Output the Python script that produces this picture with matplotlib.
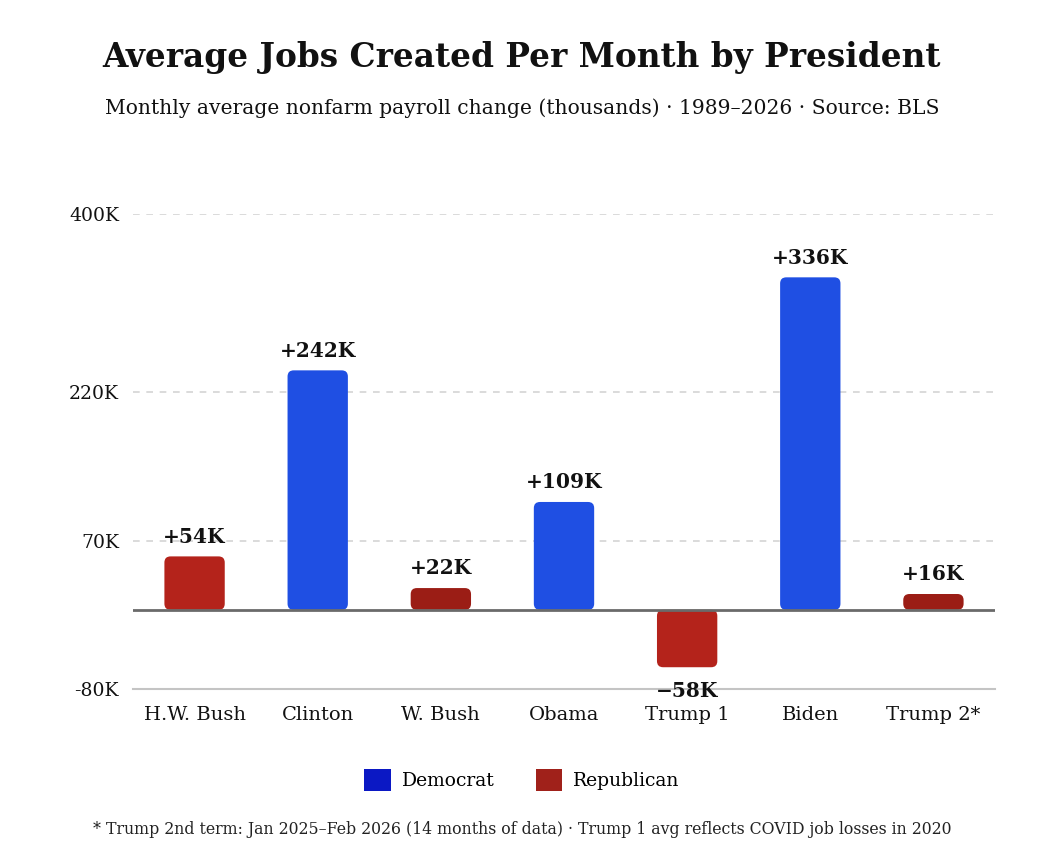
import matplotlib
matplotlib.use("Agg")
import matplotlib.pyplot as plt
from matplotlib.patches import FancyBboxPatch, Patch
import numpy as np

presidents = ["H.W. Bush", "Clinton", "W. Bush", "Obama", "Trump 1", "Biden", "Trump 2*"]
values = [54, 242, 22, 109, -58, 336, 16]
parties = ["R", "D", "R", "D", "R", "D", "R"]
value_labels = ["+54K", "+242K", "+22K", "+109K", "\u221258K", "+336K", "+16K"]
yticks = [-80, 70, 220, 400]
ytick_labels = ["-80K", "70K", "220K", "400K"]

title = "Average Jobs Created Per Month by President"
subtitle = "Monthly average nonfarm payroll change (thousands) \u00b7 1989\u20132026 \u00b7 Source: BLS"
footnote = "* Trump 2nd term: Jan 2025\u2013Feb 2026 (14 months of data) \u00b7 Trump 1 avg reflects COVID job losses in 2020"

BLUE = "#1f4fe3"
RED = "#b4231b"
DARKRED = "#9b1d15"
bar_colors = [RED, BLUE, DARKRED, BLUE, RED, BLUE, DARKRED]

plt.rcParams["font.family"] = ["DejaVu Serif"]

fig = plt.figure(figsize=(10.44, 8.6), dpi=100)
ax = fig.add_axes([133/1044, 1-689/860, (995-133)/1044, (689-214)/860])

x = np.arange(len(presidents))
bars = ax.bar(x, values, width=0.49, color=bar_colors)
for b, c in zip(bars, bar_colors):
    b.set_visible(False)
    y0 = min(b.get_y(), b.get_y() + b.get_height())
    h = abs(b.get_height())
    p = FancyBboxPatch((b.get_x(), y0), b.get_width(), h,
                       boxstyle="round,pad=0,rounding_size=0.05", mutation_aspect=124,
                       facecolor=c, edgecolor="none", zorder=3)
    ax.add_patch(p)

ax.set_xlim(-0.5, len(presidents) - 0.5)
ax.set_ylim(-80, 400)
ax.set_yticks(yticks)
ax.set_yticklabels(ytick_labels, fontsize=13.5)
ax.set_xticks(x)
ax.set_xticklabels(presidents, fontsize=14)
ax.tick_params(axis="both", length=0, colors="#111111")
ax.tick_params(axis="y", pad=10)
ax.tick_params(axis="x", pad=12)

for s in ["top", "right", "left"]:
    ax.spines[s].set_visible(False)
ax.spines["bottom"].set_color("#c4c4c4")
ax.spines["bottom"].set_linewidth(1.5)

for t in [70, 220, 400]:
    ax.axhline(t, color="#d4d4d4", linestyle=(0, (4, 4)), linewidth=1.2, zorder=1)
ax.axhline(0, color="#6a6a6a", linewidth=2, zorder=4)

for xi, v, lab in zip(x, values, value_labels):
    if v >= 0:
        ax.annotate(lab, (xi, v), xytext=(0, 7), textcoords="offset points",
                    ha="center", va="bottom", fontsize=14.5, fontweight="bold", color="#111111")
    else:
        ax.annotate(lab, (xi, v), xytext=(0, -10), textcoords="offset points",
                    ha="center", va="top", fontsize=14.5, fontweight="bold", color="#111111")

fig.text(0.5, 1-58/860, title, ha="center", va="center", fontsize=23.6, fontweight="bold", color="#111111")
fig.text(0.5, 1-108/860, subtitle, ha="center", va="center", fontsize=14.6, color="#111111")
fig.text(0.5, 1-830/860, footnote, ha="center", va="center", fontsize=11.3, color="#222222")

handles = [Patch(facecolor="#0b18c4", edgecolor="none", label="Democrat"),
           Patch(facecolor="#a0211a", edgecolor="none", label="Republican")]
leg = fig.legend(handles=handles, loc="center", bbox_to_anchor=(0.5, 1-780/860), ncol=2,
                 frameon=False, fontsize=13.5, handlelength=1.4, handleheight=1.4,
                 columnspacing=2.2, handletextpad=0.6)

fig.savefig("out.png", dpi=100, facecolor="white")
